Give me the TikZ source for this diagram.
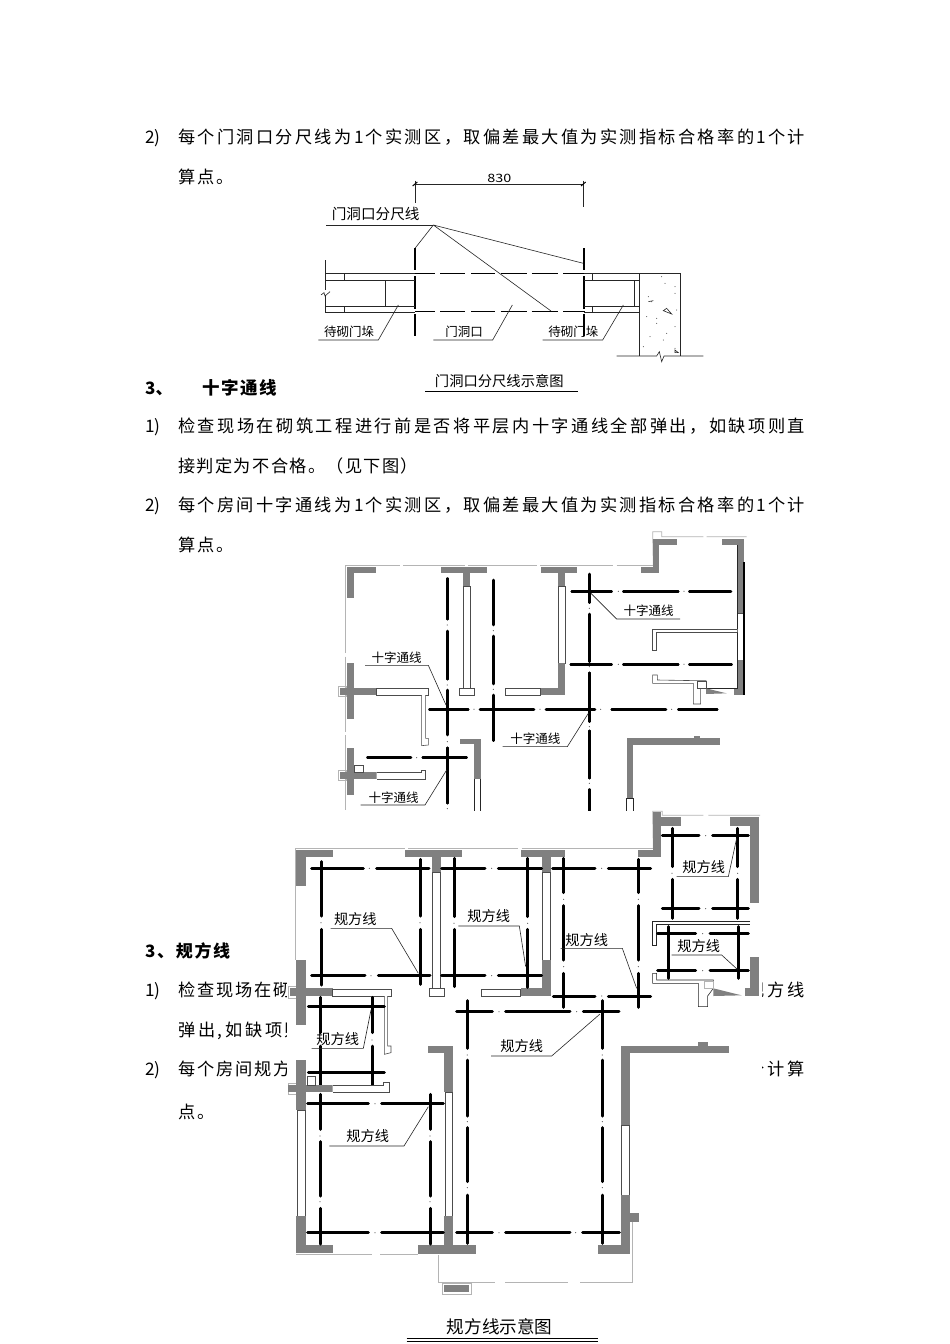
\documentclass[tikz,border=0pt]{standalone}
\usepackage{graphicx}
\usepackage{fontspec}
\setmainfont{Noto Sans CJK SC}
\definecolor{wallgrey}{HTML}{808080}
\definecolor{lightline}{HTML}{B4B4B4}
\def\SpreadA#1{\ifx#1\relax\let\SpNext\relax\else\hfil #1\let\SpNext\SpreadA\fi\SpNext}
\def\SpreadFirst#1{#1\SpreadA}
\def\SpreadLine#1#2{\hbox to #1pt{\SpreadFirst#2\relax}}
\newcommand\Fs[1]{\fontsize{#1}{#1}\selectfont}
\tikzset{
 txt/.style={anchor=base west,inner sep=0pt,font=\Fs{17.2}},
 txte/.style={anchor=base east,inner sep=0pt,font=\Fs{17.2}},
 lbl/.style={anchor=center,inner sep=0pt,font=\Fs{12.5}},
 lblb/.style={anchor=center,inner sep=0pt,font=\Fs{14.2}},
 thk/.style={line width=2.6pt,line cap=round,black},
 thkb/.style={line width=3pt,line cap=round,black},
 thn/.style={line width=.6pt,black!85},
 lite/.style={line width=.8pt,lightline},
 wall/.style={fill=wallgrey,draw=none},
 strip/.style={draw=black!70,line width=.6pt,fill=white},
 dmark/.style={fill=black!60,draw=none},
 dash1/.style={line width=1.5pt,black},
}
\newcommand\Wl[4]{\fill[wall] (#1,#2) rectangle (#3,#4);}
\newcommand\St[4]{\draw[strip] (#1,#2) rectangle (#3,#4);}
\newcommand\HL[3][thk]{\foreach \a/\b in {#3}{\draw[#1] (\a,#2) -- (\b,#2);}}
\newcommand\VL[3][thk]{\foreach \a/\b in {#3}{\draw[#1] (#2,\a) -- (#2,\b);}}
\newcommand\HD[2]{\foreach \a in {#2}{\fill[dmark] (\a,#1) circle (.6pt);}}
\newcommand\VD[2]{\foreach \a in {#2}{\fill[dmark] (#1,\a) circle (.6pt);}}
\begin{document}
\begin{tikzpicture}[x=1pt,y=-1pt]
\useasboundingbox (0,0) rectangle (950,1344);
\fill[white] (0,0) rectangle (950,1344);
% ---- body text
\node[txt] (n2a) at (145,143) {2)};
\node[txt] (t2a) at (178,143) {\SpreadLine{627}{每个门洞口分尺线为1个实测区，取偏差最大值为实测指标合格率的1个计}};
\node[txt] (t2b) at (178,183) {\SpreadLine{55.5}{算点。}};
\node[txt,font=\Fs{17}\bfseries] (h3) at (145,394) {3、};
\node[txt,font=\Fs{17.5}\bfseries] (h3b) at (202,394) {\SpreadLine{75}{十字通线}};
\node[txt] (n1b) at (145,432) {1)};
\node[txt] (t1b) at (178,432) {\SpreadLine{627}{检查现场在砌筑工程进行前是否将平层内十字通线全部弹出，如缺项则直}};
\node[txt] (t1c) at (178,472) {\SpreadLine{240}{接判定为不合格。（见下图）}};
\node[txt] (n2c) at (145,511) {2)};
\node[txt] (t2c) at (178,511) {\SpreadLine{627}{每个房间十字通线为1个实测区，取偏差最大值为实测指标合格率的1个计}};
\node[txt] (t2d) at (178,551) {\SpreadLine{55.5}{算点。}};
\node[txt,font=\Fs{17}\bfseries] (h4) at (145,957) {\SpreadLine{85}{3、规方线}};
\node[txt] (n1e) at (145,996) {1)};
\node[txt] (t1e) at (178,996) {\SpreadLine{112.5}{检查现场在砌}};
\node[txte] (t1f) at (805,996) {\SpreadLine{57}{规方线}};
\node[txt] (t1g) at (178,1036) {\SpreadLine{124}{弹出,如缺项则}};
\node[txt] (n2g) at (145,1075) {2)};
\node[txt] (t2g) at (178,1075) {\SpreadLine{112.5}{每个房间规方}};
\node[txte] (t2h) at (805,1075) {\SpreadLine{57}{个计算}};
\node[txt] (t2i) at (178,1118) {\SpreadLine{36.5}{点。}};
% ---- door opening figure (zoom coordinates)
\begin{scope}[shift={(310,170)},x=.33333pt,y=-.33333pt]
 \node[anchor=center,inner sep=0pt,font=\Fs{11.5}] (dim) at (568,26) {\scalebox{1.25}[1]{830}};
 \coordinate (da) at (315,42); \coordinate (db) at (820,42);
 \draw[thn] (da) -- (db);
 \draw[thn] (315,32) -- (315,100) (820,32) -- (820,110);
 \draw[line width=1pt] (308,48) -- (322,36) (813,48) -- (827,36);
 \node[anchor=center,inner sep=0pt,font=\Fs{14.6}] (lab) at (197,132) {门洞口分尺线};
 \coordinate (lj) at (370,165);
 \draw[thn] (48,165) -- (lj);
 \draw[thn] (lj) -- (315,235) (lj) -- (820,280) (lj) -- (723,423);
 \draw[dash1] (315,235) -- (315,300) (315,318) -- (315,418) (315,432) -- (315,498);
 \draw[dash1] (822,235) -- (822,300) (822,318) -- (822,418) (822,432) -- (822,498);
 \HL[dash1]{310}{315/375,390/465,483/555,572/650,665/745,760/825}
 \HL[dash1]{425}{315/375,390/465,483/555,572/650,665/745,760/825}
 % walls
 \draw[thn] (47,270) -- (47,360) (47,378) -- (47,430);
 \draw[thn] (33,375) -- (42,368) -- (45,378) -- (60,365);
 \draw[thn] (47,310) -- (315,310) (47,330) -- (315,330) (47,410) -- (315,410) (47,428) -- (315,428);
 \draw[thn] (103,310) -- (103,330) (103,410) -- (103,428) (227,330) -- (227,410);
 \draw[thn] (822,310) -- (988,310) (822,330) -- (988,330) (822,410) -- (988,410) (822,428) -- (988,428);
 \draw[thn] (848,310) -- (848,330) (848,410) -- (848,428) (972,330) -- (972,410);
 \draw[thn] (988,558) -- (988,310) -- (1110,310) -- (1110,558);
 \draw[thn] (920,558) -- (1040,558) -- (1048,545) -- (1055,575) -- (1062,558) -- (1180,558);
 \foreach \px/\py in {1055/320,1095/350,1015/380,1095/370,1025/395,1100/420,1010/440,1040/460,1095/470,1070/490,1020/500,1060/510,1000/530,1095/535,1040/445,1065/340}{\fill[black!80] (\px,\py) circle (.5pt);}
 \draw[thn] (1060,422) -- (1085,432) -- (1070,415) -- cycle;
 \draw[thn] (1015,395) -- (1030,392);
 \draw[thn] (1095,540) -- (1105,548) -- (1095,548) -- cycle;
 % labels
 \node[lbl] (w1) at (117,485) {待砌门垛};
 \node[lbl] (w2) at (462,485) {门洞口};
 \node[lbl] (w3) at (790,485) {待砌门垛};
 \draw[thn] (25,510) -- (205,510) -- (265,405);
 \draw[thn] (370,510) -- (548,510) -- (607,405);
 \draw[thn] (698,510) -- (878,510) -- (940,405);
 \node[anchor=center,inner sep=0pt,font=\Fs{14.3}] (ttl1) at (568,632) {门洞口分尺线示意图};
 \draw[line width=1.3pt] (345,665) -- (803,665);
\end{scope}
% ---- upper plan
\fill[white] (340,530) rectangle (762,811);
\begin{scope}[shift={(330,530)},x=.33333pt,y=-.33333pt]
 % outer light line
 \foreach \a/\b in {47/210,220/405,415/620,630/850,860/970}{\draw[lite] (\a,105) -- (\b,105);}
 \foreach \a/\b in {105/205,205/370,380/605,615/840}{\draw[lite] (47,\a) -- (47,\b);}
 \draw[lite] (970,105) -- (968,5) -- (995,5) -- (995,20) -- (1120,20) (1130,20) -- (1250,20);
 % walls
 \Wl{50}{112}{138}{128} \Wl{50}{112}{72}{205}
 \Wl{333}{112}{470}{128} \Wl{400}{128}{420}{168}
 \St{400}{168}{420}{478} \St{387}{475}{432}{495}
 \Wl{632}{110}{742}{128} \Wl{685}{128}{706}{170}
 \St{685}{170}{706}{400} \Wl{685}{400}{706}{495}
 \Wl{630}{475}{706}{495} \St{525}{475}{630}{495}
 \Wl{933}{110}{988}{128} \Wl{970}{28}{988}{128} \Wl{988}{28}{1040}{45}
 \Wl{1175}{28}{1242}{45} \Wl{1222}{28}{1242}{250}
 \St{1222}{250}{1242}{390} \Wl{1222}{390}{1242}{495} \Wl{1212}{475}{1242}{495}
 \fill[black] (1240,95) rectangle (1245,495);
 \draw[thn] (1222,45) -- (1222,475) -- (1128,475);
 \draw[strip] (1222,297) -- (968,297) -- (968,360) -- (980,360) -- (980,307) -- (1222,307);
 \draw[strip] (968,435) -- (968,460) -- (1090,460) -- (1090,522) -- (1112,522) -- (1112,475) -- (1128,475) -- (1128,452) -- (1100,452) -- (982,450) -- (982,435) -- cycle;
 \fill[wallgrey] (1128,475) -- (1190,490) -- (1128,492) -- cycle;
 \draw[strip,fill=white] (1103,455) rectangle (1128,475);
 % left crosses
 \draw[lite] (25,470) rectangle (50,500);
 \Wl{52}{400}{72}{568} \Wl{30}{475}{140}{495}
 \St{140}{475}{295}{495}
 \draw[strip] (275,495) -- (275,647) -- (295,645) -- (295,625) -- (287,625) -- (287,495);
 \draw[lite] (25,722) rectangle (50,752);
 \Wl{52}{655}{72}{795} \Wl{30}{727}{140}{747}
 \St{72}{705}{100}{727}
 \draw[strip] (140,727) -- (275,727) -- (275,720) -- (285,720) -- (285,747) -- (140,747);
 % centre & right walls
 \Wl{390}{628}{452}{642} \Wl{432}{628}{452}{748}
 \draw[thn] (432,748) -- (432,842) (452,748) -- (452,842);
 \Wl{890}{625}{1170}{645} \Wl{1092}{618}{1110}{625} \Wl{890}{625}{910}{805}
 \draw[thn] (890,805) -- (890,842) (910,805) -- (910,842) (890,805) -- (910,805);
 % thick lines
 \VL{352}{145/268,303/448,480/615,653/820}\VD{352}{285,465,635,836}
 \VL{490}{150/285,318/462,495/632}\VD{490}{302,478}
 \VL{778}{132/218,252/395,428/575,602/745,778/842}\VD{778}{235,410,590,760}
 \HL{538}{298/415,450/612,648/795,845/1008,1045/1162}\HD{538}{432,630,812,1025}
 \HL{184}{725/845,880/1045,1078/1203}\HD{184}{865,1062}
 \HL{403}{722/845,880/1045,1078/1205}\HD{403}{865,1062}
 \HL{683}{112/243,278/410}\HD{683}{260}
 % labels
 \node[lbl] (a1) at (200,383) {十字通线};
 \node[lbl] (a2) at (956,242) {十字通线};
 \node[lbl] (a3) at (616,625) {十字通线};
 \node[lbl] (a4) at (191,802) {十字通线};
 \draw[thn] (105,406) -- (295,406) -- (348,525);
 \draw[thn] (1050,267) -- (860,267) -- (783,190);
 \draw[thn] (518,650) -- (712,650) -- (775,550);
 \draw[thn] (92,825) -- (285,825) -- (350,720);
\end{scope}
% ---- lower plan
\fill[white] (287,811) rectangle (762,1300);
\begin{scope}[shift={(285,810)},x=.33333pt,y=-.33333pt]
 \foreach \a/\b in {32/360,370/700,710/1105}{\draw[lite] (\a,115) -- (\b,115);}
 \draw[lite] (32,115) -- (32,450);
 \draw[lite] (1105,115) -- (1103,4) -- (1132,4) -- (1132,16) -- (1255,16) (1270,16) -- (1425,16);
 \Wl{33}{120}{143}{142} \Wl{33}{120}{63}{228}
 \Wl{360}{120}{530}{142} \Wl{440}{142}{468}{187}
 \St{442}{187}{467}{535} \St{432}{535}{478}{558}
 \Wl{707}{120}{840}{142} \Wl{770}{142}{797}{187}
 \St{773}{187}{795}{450} \Wl{770}{450}{797}{558}
 \Wl{707}{535}{797}{558} \St{590}{537}{707}{558}
 \Wl{1058}{120}{1128}{142} \Wl{1105}{5}{1128}{142} \Wl{1128}{22}{1188}{47}
 \Wl{1335}{22}{1422}{47} \Wl{1395}{22}{1422}{280}
 \Wl{1395}{440}{1422}{558} \Wl{1380}{535}{1422}{558}
 \draw[thn] (1395,333) -- (1103,333) -- (1103,405) -- (1115,405) -- (1115,343) -- (1395,343);
 \draw[thn] (1103,490) -- (1103,520) -- (1240,520) -- (1240,590) -- (1268,590) -- (1268,558) -- (1285,535) -- (1285,510) -- (1255,510) -- (1115,510) -- (1115,490) -- cycle;
 \fill[wallgrey] (1285,535) -- (1370,556) -- (1285,558) -- cycle;
 \draw[lite] (1258,513) rectangle (1285,535);
 \draw[lite] (10,530) rectangle (33,565);
 \Wl{33}{450}{63}{645} \Wl{15}{535}{143}{558}
 \St{143}{537}{318}{558}
 \draw[strip] (298,558) -- (298,733) -- (318,728) -- (318,708) -- (308,708) -- (308,558);
 \Wl{430}{707}{505}{730} \Wl{477}{707}{505}{842}
 \Wl{1008}{707}{1333}{730} \Wl{1240}{697}{1268}{707} \Wl{1008}{707}{1035}{842}
 \VL[thkb]{108}{155/318,358/525}\VD{108}{338}
 \VL[thkb]{405}{148/318,358/523}\VD{405}{338}
 \VL[thkb]{507}{145/320,358/530}\VD{507}{340}
 \VL[thkb]{728}{145/320,358/532}\VD{728}{340}
 \VL[thkb]{836}{145/248,287/450,490/592}\VD{836}{268,470}
 \VL[thkb]{1060}{148/248,287/450,490/592}\VD{1060}{268,470}
 \VL[thkb]{1161}{55/170,208/325}\VD{1161}{190}
 \VL[thkb]{1358}{55/170,208/325}\VD{1358}{190}
 \VL[thkb]{1150}{350/505}
 \VL[thkb]{1360}{350/505}
 \VL[thkb]{105}{562/668,708/842}\VD{105}{690}
 \VL[thkb]{261}{562/668,708/842}\VD{261}{690}
 \VL[thkb]{547}{572/715,755/842}\VD{547}{735}
 \VL[thkb]{952}{572/715,755/842}\VD{952}{735}
 \HL[thkb]{175}{80/235,275/432,470/600,640/770,803/930,970/1097}\HD{175}{253,620,950}
 \HL[thkb]{497}{80/240,280/435,470/600,640/770}\HD{497}{258,620}
 \HL[thkb]{558}{805/930,970/1097}\HD{558}{950}
 \HL[thkb]{605}{515/622,662/855,895/1002}\HD{605}{642,875}
 \HL[thkb]{77}{1132/1242,1283/1390}\HD{77}{1262}
 \HL[thkb]{296}{1132/1242,1283/1390}\HD{296}{1262}
 \HL[thkb]{371}{1118/1232,1275/1390}\HD{371}{1253}
 \HL[thkb]{482}{1118/1232,1275/1390}\HD{482}{1253}
 \HL[thkb]{590}{70/298}
 \HL[thkb]{787}{70/298}
 \node[lblb] (b1) at (211,327) {规方线};
 \node[lblb] (b2) at (611,318) {规方线};
 \node[lblb] (b3) at (905,390) {规方线};
 \node[lblb] (b4) at (1256,170) {规方线};
 \node[lblb] (b5) at (1241,408) {规方线};
 \node[lblb] (b6) at (158,687) {规方线};
 \node[lblb] (b7) at (710,708) {规方线};
 \draw[thn] (137,355) -- (320,355) -- (400,490);
 \draw[thn] (520,348) -- (703,348) -- (722,470);
 \draw[thn] (827,415) -- (1012,415) -- (1055,535);
 \draw[thn] (1175,200) -- (1330,200) -- (1355,85);
 \draw[thn] (1160,435) -- (1310,435) -- (1357,478);
 \draw[thn] (80,715) -- (235,715) -- (258,600);
 \draw[thn] (618,738) -- (800,738) -- (945,612);
\end{scope}
\begin{scope}[shift={(285,1060)},x=.33333pt,y=-.33333pt]
 \draw[lite] (10,70) rectangle (33,103);
 \Wl{33}{0}{63}{150} \Wl{10}{75}{143}{97}
 \St{68}{50}{92}{75}
 \draw[strip] (143,75) -- (295,75) -- (295,68) -- (312,68) -- (312,97) -- (143,97);
 \St{38}{150}{60}{468}
 \Wl{33}{468}{63}{580} \Wl{33}{555}{143}{580}
 \Wl{477}{0}{505}{97} \St{480}{97}{502}{468}
 \Wl{477}{468}{505}{555} \Wl{398}{555}{573}{582}
 \Wl{1008}{0}{1035}{195} \St{1010}{195}{1033}{405}
 \Wl{1008}{405}{1035}{582} \Wl{940}{555}{1035}{582} \Wl{1035}{460}{1062}{485}
 % balcony
 \draw[lite] (33,584) -- (260,584) (285,584) -- (398,584) (460,585) -- (460,668) -- (630,668) (660,668) -- (850,668) (885,668) -- (1043,668) -- (1043,485);
 \draw[lite] (472,670) rectangle (558,702);
 \Wl{477}{675}{553}{697}
 \VL[thkb]{105}{0/68,103/208,245/408,445/552}\VD{105}{228,425}
 \VL[thkb]{261}{0/68}
 \VL[thkb]{435}{103/208,245/408,445/552}\VD{435}{228,425}
 \VL[thkb]{547}{0/168,203/365,405/550}\VD{547}{185,383}
 \VL[thkb]{952}{0/168,203/365,405/550}\VD{952}{185,383}
 \HL[thkb]{131}{68/250,290/475}\HD{131}{270}
 \HL[thkb]{518}{68/250,290/475,515/622,662/855,893/1003}\HD{518}{270,642,872}
 \node[lblb] (b8) at (248,228) {规方线};
 \draw[thn] (133,258) -- (357,258) -- (430,140);
 \node[anchor=center,inner sep=0pt,font=\Fs{17.6}] (ttl2) at (644,800) {规方线示意图};
 \draw[line width=.9pt] (365,835) -- (940,835) (365,843) -- (940,843);
\end{scope}
\end{tikzpicture}
\end{document}
